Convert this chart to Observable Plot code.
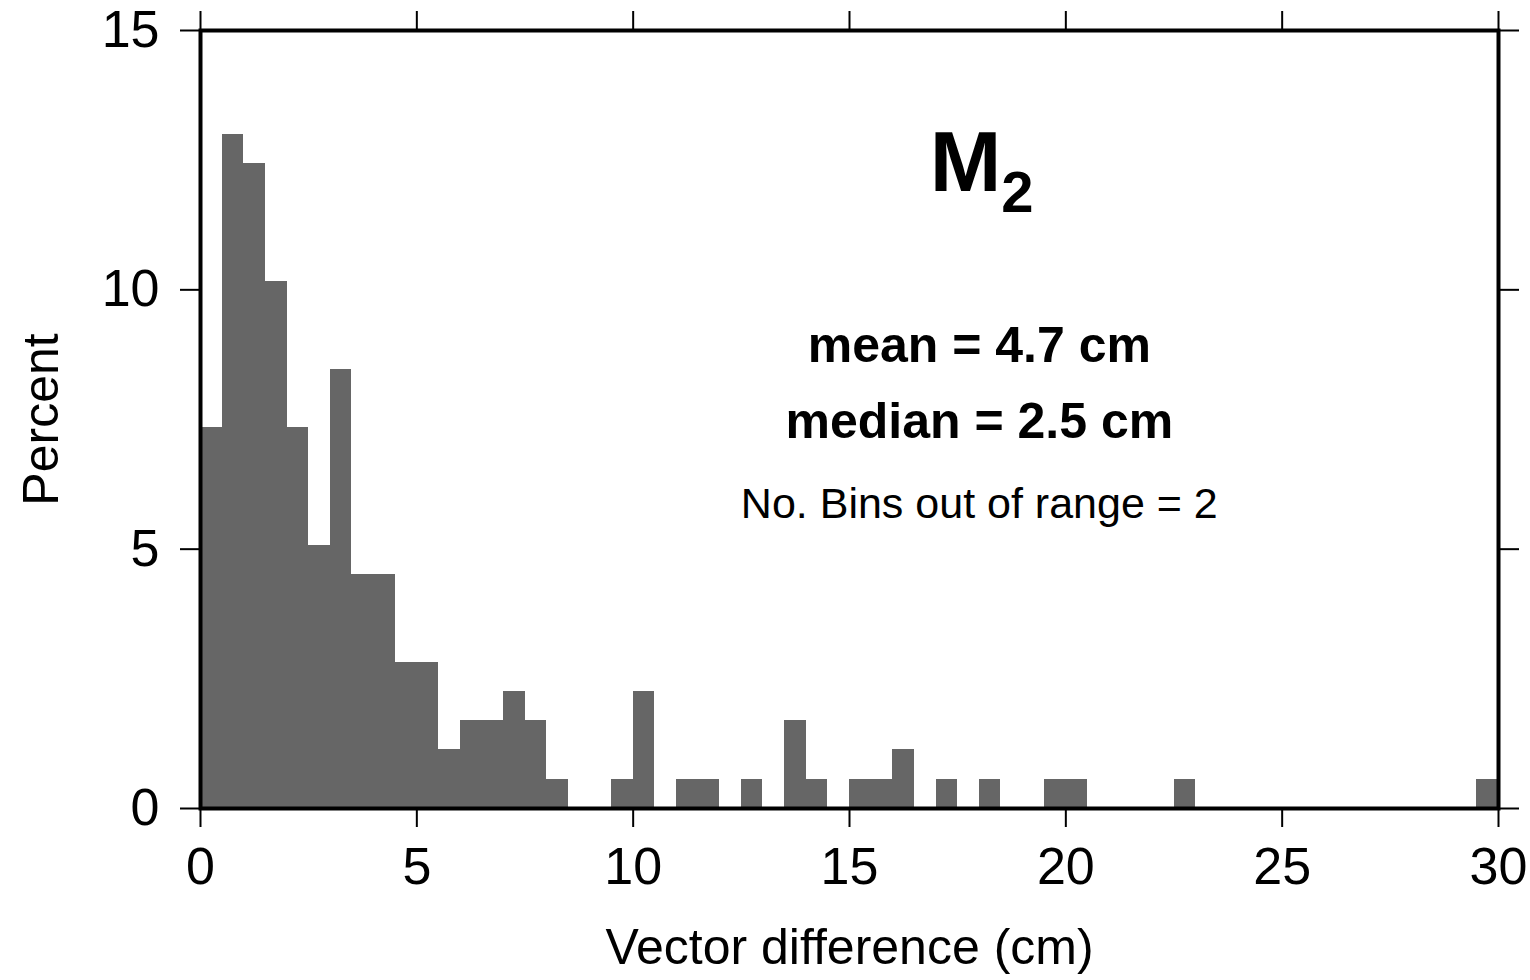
<!DOCTYPE html>
<html>
<head>
<meta charset="utf-8">
<script src="https://cdn.jsdelivr.net/npm/d3@7"></script>
<script src="https://cdn.jsdelivr.net/npm/@observablehq/plot@0.6"></script>
<style>
  html, body { margin: 0; padding: 0; background: white; }
</style>
</head>
<body>
<div id="chart"></div>
<script>
// Lower edges of 0.5 cm bins
const binLo = [
  0.0, 0.5, 1.0, 1.5, 2.0, 2.5, 3.0, 3.5, 4.0, 4.5,
  5.0, 5.5, 6.0, 6.5, 7.0, 7.5, 8.0, 8.5, 9.0, 9.5,
  10.0, 10.5, 11.0, 11.5, 12.0, 12.5, 13.0, 13.5, 14.0, 14.5,
  15.0, 15.5, 16.0, 16.5, 17.0, 17.5, 18.0, 18.5, 19.0, 19.5,
  20.0, 20.5, 21.0, 21.5, 22.0, 22.5, 23.0, 23.5, 24.0, 24.5,
  25.0, 25.5, 26.0, 26.5, 27.0, 27.5, 28.0, 28.5, 29.0, 29.5
];
const binHi = [
  0.5, 1.0, 1.5, 2.0, 2.5, 3.0, 3.5, 4.0, 4.5, 5.0,
  5.5, 6.0, 6.5, 7.0, 7.5, 8.0, 8.5, 9.0, 9.5, 10.0,
  10.5, 11.0, 11.5, 12.0, 12.5, 13.0, 13.5, 14.0, 14.5, 15.0,
  15.5, 16.0, 16.5, 17.0, 17.5, 18.0, 18.5, 19.0, 19.5, 20.0,
  20.5, 21.0, 21.5, 22.0, 22.5, 23.0, 23.5, 24.0, 24.5, 25.0,
  25.5, 26.0, 26.5, 27.0, 27.5, 28.0, 28.5, 29.0, 29.5, 30.0
];
// Percent per bin
const percent = [
  7.34, 12.99, 12.43, 10.17, 7.34, 5.08, 8.47, 4.52, 4.52, 2.82,
  2.82, 1.13, 1.69, 1.69, 2.26, 1.69, 0.56, 0, 0, 0.56,
  2.26, 0, 0.56, 0.56, 0, 0.56, 0, 1.69, 0.56, 0,
  0.56, 0.56, 1.13, 0, 0.56, 0, 0.56, 0, 0, 0.56,
  0.56, 0, 0, 0, 0, 0.56, 0, 0, 0, 0,
  0, 0, 0, 0, 0, 0, 0, 0, 0, 0.56
];
const xTicks = [0, 5, 10, 15, 20, 25, 30];
const yTicks = [0, 5, 10, 15];
const xTitle = "Vector difference (cm)";
const yTitle = "Percent";
const constituent = "M";
const constituentSub = "2";
const statLines = ["mean = 4.7 cm", "median = 2.5 cm"];
const noteLine = "No. Bins out of range = 2";

const bins = binLo.map((lo, i) => ({lo, hi: binHi[i], pct: percent[i]}));

const FONT = "'Liberation Sans', Arial, Helvetica, sans-serif";
const blank = () => "";
const intFmt = d3.format("d");

const chart = Plot.plot({
  width: 1530,
  height: 980,
  marginLeft: 200,
  marginRight: 32,
  marginTop: 30,
  marginBottom: 172,
  style: {fontFamily: FONT, fontSize: "52px", background: "white", color: "black"},
  x: {domain: [0, 30]},
  y: {domain: [0, 15]},
  marks: [
    Plot.rectY(bins.filter(d => d.pct > 0), {x1: "lo", x2: "hi", y: "pct", fill: "#666666", inset: 0, shapeRendering: "crispEdges"}),
    Plot.axisX(xTicks, {anchor: "bottom", tickSize: 19, tickPadding: 20, strokeWidth: 2, fontSize: 52, tickFormat: intFmt, label: null}),
    Plot.axisX(xTicks, {anchor: "top", tickSize: 20, strokeWidth: 2, tickFormat: blank, label: null}),
    Plot.axisY(yTicks, {anchor: "left", tickSize: 20, tickPadding: 21, strokeWidth: 2, fontSize: 52, tickFormat: intFmt, label: null}),
    Plot.axisY(yTicks, {anchor: "right", tickSize: 20, strokeWidth: 2, tickFormat: blank, label: null}),
    Plot.frame({stroke: "black", strokeWidth: 4}),
    Plot.text([xTitle], {frameAnchor: "bottom", dy: 155, textAnchor: "middle", lineAnchor: "bottom", fontSize: 50, fill: "black"}),
    Plot.text([yTitle], {frameAnchor: "left", dx: -143, rotate: -90, textAnchor: "middle", lineAnchor: "bottom", fontSize: 50, fill: "black"}),
    Plot.text([constituent], {x: () => 18, y: () => 11.9, textAnchor: "end", dx: 22, lineAnchor: "bottom", fontSize: 86, fontWeight: "bold", fill: "black"}),
    Plot.text([constituentSub], {x: () => 18, y: () => 11.5, textAnchor: "start", dx: 22, lineAnchor: "bottom", fontSize: 58, fontWeight: "bold", fill: "black"}),
    Plot.text(statLines, {x: () => 18, y: (d, i) => [8.61, 7.14][i], lineAnchor: "bottom", fontSize: 50, fontWeight: "bold", fill: "black"}),
    Plot.text([noteLine], {x: () => 18, y: () => 5.6, lineAnchor: "bottom", fontSize: 43, fill: "black"})
  ]
});
document.getElementById("chart").appendChild(chart);
</script>
</body>
</html>
